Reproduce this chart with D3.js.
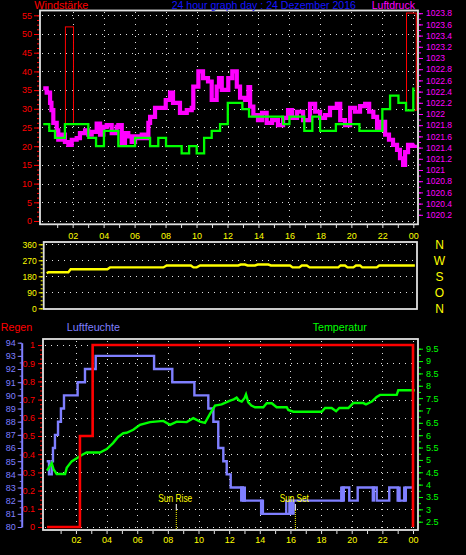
<!DOCTYPE html>
<html><head><meta charset="utf-8">
<script src="https://cdn.jsdelivr.net/npm/d3@7"></script>
<style>html,body{margin:0;padding:0;background:#000;}svg{display:block;}text{font-family:"Liberation Sans",Arial,sans-serif;}</style>
</head><body><svg id="c" width="466" height="555"></svg>
<script>
// ---------- DATA ----------
const hourTicks = d3.range(1, 25);
const windTicks = d3.range(0, 56, 5);
const presTicks = d3.range(0, 19).map(i => 1020.2 + i * 0.2);
const dirTicks = [0, 90, 180, 270, 360];
const dirLetters = ["N", "O", "S", "W", "N"];
const rainTicks = d3.range(0, 11).map(i => i / 10);
const humTicks = d3.range(80, 95);
const tempTicks = d3.range(0, 15).map(i => 2.5 + i * 0.5);

// wind speed (stepped)
const windTimes = [0.10,0.49,0.86,1.50,3.01,3.51,4.02,4.95,6.03,7.00,7.53,8.03,9.04,9.52,10.01,10.49,10.98,11.52,12.02,12.96,13.39,15.59,16.00,16.96,17.48,17.98,19.00,20.52,22.00,22.50,23.04,23.53,24.00];
const windValues = [25.9,24.1,22.2,25.9,22.2,20.0,24.1,20.0,22.2,20.0,22.2,20.0,18.1,20.0,18.1,22.2,24.1,25.9,31.6,29.9,27.9,25.9,27.9,24.1,27.9,24.1,25.9,24.1,29.9,33.5,31.6,29.6,35.7];
// gust bars
const gustStart = [1.50, 23.53];
const gustEnd = [2.02, 24.16];
const gustLow = [25.9, 29.6];
const gustHigh = [51.9, 55.6];
// pressure
const presTimes = [0.10,0.32,0.54,0.63,0.75,0.97,1.07,1.29,1.50,1.72,1.94,2.26,2.47,2.80,3.01,3.23,3.55,3.77,3.98,4.20,4.52,4.84,4.95,5.17,5.38,5.59,5.81,6.03,6.24,6.46,6.72,6.89,7.00,7.32,7.64,8.01,8.29,8.48,8.93,9.37,9.69,9.79,10.12,10.42,10.74,10.98,11.30,11.45,11.63,12.05,12.31,12.60,12.81,13.13,13.35,13.46,13.67,13.97,14.23,14.53,14.88,15.26,15.59,15.91,16.17,16.49,16.88,17.33,17.66,17.98,18.30,18.62,19.06,19.28,19.59,19.92,20.24,20.56,20.89,21.15,21.42,21.66,21.92,22.18,22.43,22.69,22.95,23.14,23.34,23.47,23.66,23.92,24.10];
const presValues = [1022.46,1022.38,1022.20,1022.07,1021.84,1021.71,1021.54,1021.63,1021.50,1021.45,1021.54,1021.57,1021.66,1021.71,1021.63,1021.68,1021.83,1021.63,1021.77,1021.80,1021.66,1021.77,1021.80,1021.48,1021.66,1021.60,1021.50,1021.60,1021.57,1021.63,1021.57,1021.84,1021.95,1022.11,1022.11,1022.25,1022.38,1022.20,1022.02,1022.07,1022.11,1022.49,1022.76,1022.64,1022.58,1022.25,1022.49,1022.64,1022.43,1022.64,1022.76,1022.49,1022.29,1022.25,1022.48,1022.13,1021.98,1021.89,1022.02,1021.84,1021.89,1021.80,1021.93,1022.07,1021.93,1022.04,1021.89,1022.18,1022.04,1021.93,1021.98,1022.11,1022.18,1021.89,1021.80,1022.11,1022.04,1022.14,1022.18,1022.04,1021.95,1021.75,1021.86,1021.63,1021.54,1021.45,1021.36,1021.21,1021.09,1021.32,1021.45,1021.43,1021.45];
// wind direction
const dirTimes = [0.32,0.43,1.72,1.87,4.24,4.41,7.86,8.07,9.63,9.80,10.01,10.23,12.70,12.85,13.13,13.30,13.78,13.95,14.64,14.80,16.04,16.20,16.64,16.80,17.12,17.30,19.16,19.30,19.59,19.75,20.13,20.30,20.56,20.70,21.64,21.80,24.10];
const dirValues = [197,203,203,220,220,230,230,241,241,230,230,241,241,246,246,241,241,246,246,241,241,230,230,241,241,230,230,241,241,230,230,241,241,230,230,241,241];
// rain (cumulative)
const rainTimes = [0.11, 2.26, 3.09, 24.0];
const rainValues = [0, 0.5, 1.0, 0];
// humidity (stepped)
const humTimes = [0.09,0.24,0.42,0.50,0.63,0.83,1.02,1.22,2.11,2.59,3.29,7.10,8.29,9.73,10.64,10.97,11.29,11.62,11.84,12.10,12.90,14.15,15.95,19.40,19.84,20.39,21.63,22.45,23.00,23.53,23.98];
const humValues = [85,84,85,86,87,88,89,90,91,92,93,92,91,90,89,88,86,85,84,83,82,81,82,83,82,83,82,83,82,83,83];
// humidity flicker blocks (rapid alternation)
const flickStart = [12.71,14.01,15.65,15.87,19.24,21.30,23.00,23.35];
const flickEnd = [13.10,14.28,15.80,16.28,19.56,21.52,23.20,23.53];
const flickLow = [82,81,81,81,82,82,82,82];
const flickHigh = [83,82,82,82,83,83,83,83];
// temperature
const tempTimes = [0.11,0.42,0.54,0.74,1.29,1.40,1.72,2.13,2.38,2.70,3.57,4.01,4.42,4.75,5.09,5.31,5.74,6.18,6.83,7.70,8.14,8.58,9.23,9.66,10.10,10.42,10.75,11.08,11.51,12.06,12.30,12.49,12.65,12.82,13.00,13.10,13.25,13.45,13.69,14.23,14.45,14.78,15.10,15.76,15.86,16.19,18.04,18.26,18.69,18.98,19.19,19.78,20.10,20.76,20.93,21.31,21.63,21.85,22.94,23.04,24.13];
const tempValues = [4.57,4.87,4.62,4.43,4.43,4.68,4.94,5.10,5.20,5.30,5.30,5.44,5.68,5.93,6.08,6.10,6.22,6.42,6.53,6.58,6.42,6.55,6.53,6.69,6.55,6.50,6.86,7.20,7.25,7.40,7.45,7.52,7.40,7.36,7.50,7.65,7.33,7.20,7.13,7.13,7.29,7.29,7.13,7.13,7.02,6.95,6.95,7.10,7.10,6.97,7.10,7.10,7.30,7.30,7.25,7.36,7.55,7.63,7.63,7.82,7.82];
// sun
const sunTimes = [8.55, 16.32];
const sunLabels = ["Sun Rise", "Sun Set"];

// ---------- SCALES ----------
const xTop = d3.scaleLinear().domain([0, 24]).range([41.7, 413.3]);
const xBot = d3.scaleLinear().domain([0, 24]).range([45.3, 413]);
const yWind = d3.scaleLinear().domain([0, 55]).range([221, 15.3]);
const yPres = d3.scaleLinear().domain([1020.2, 1023.8]).range([214.8, 13.2]);
const yDir = d3.scaleLinear().domain([0, 360]).range([308.3, 244.3]);
const yRain = d3.scaleLinear().domain([0, 1]).range([527, 345]);
const yHum = d3.scaleLinear().domain([80, 94]).range([527, 342.7]);
const yTemp = d3.scaleLinear().domain([2.5, 9.5]).range([521.7, 348.7]);

const RED = "#ff0000", MAG = "#ff00ff", GRN = "#00ff00", YEL = "#ffff00", HUM = "#7f7fff", WHITE = "#e0e0e0";
const FONT = "Liberation Sans, Arial, sans-serif";
const svg = d3.select("#c");
svg.append("rect").attr("width", 466).attr("height", 555).attr("fill", "#000");

function styleAxis(g, color, size, keepDomain) {
  g.attr("font-family", FONT).attr("font-size", size);
  if (!keepDomain) g.select(".domain").remove();
  else g.select(".domain").attr("stroke", color).attr("stroke-width", 1.5);
  g.selectAll(".tick line").attr("stroke", color);
  g.selectAll(".tick text").attr("fill", color);
}
const fmtNum = v => String(Math.round(v * 100) / 100);
const fmtHour = h => (h % 2 ? "" : String(h % 24).padStart(2, "0"));

function hGrid(vals, y, x0, x1) {
  svg.append("g").selectAll("line").data(vals).join("line")
    .attr("x1", x0).attr("x2", x1).attr("y1", d => Math.round(y(d)) + 0.5).attr("y2", d => Math.round(y(d)) + 0.5)
    .attr("stroke", WHITE).attr("stroke-width", 1).attr("stroke-dasharray", "1,5");
}
function vGrid(vals, x, y0, y1) {
  svg.append("g").selectAll("line").data(vals).join("line")
    .attr("y1", y0).attr("y2", y1).attr("x1", d => Math.round(x(d)) + 0.5).attr("x2", d => Math.round(x(d)) + 0.5)
    .attr("stroke", WHITE).attr("stroke-width", 1).attr("stroke-dasharray", "1,5");
}
const evenHours = d3.range(2, 25, 2);

// ---------- TOP PANEL ----------
hGrid(windTicks, yWind, 42, 417);
vGrid(evenHours, xTop, 12, 223);

// gust bars
svg.append("g").selectAll("rect").data(gustStart).join("rect")
  .attr("x", (d, i) => xTop(d) + 0.5).attr("width", (d, i) => xTop(gustEnd[i]) - xTop(d))
  .attr("y", (d, i) => yWind(gustHigh[i])).attr("height", (d, i) => yWind(gustLow[i]) - yWind(gustHigh[i]))
  .attr("fill", "none").attr("stroke", RED).attr("stroke-width", 1);

const presData = presTimes.map((t, i) => [t, presValues[i]]);
svg.append("path").datum(presData)
  .attr("d", d3.line().x(d => xTop(d[0])).y(d => yPres(d[1])).curve(d3.curveStepAfter))
  .attr("fill", "none").attr("stroke", MAG).attr("stroke-width", 4.2);

const windData = windTimes.map((t, i) => [t, windValues[i]]);
svg.append("path").datum(windData)
  .attr("d", d3.line().x(d => xTop(d[0])).y(d => yWind(d[1])).curve(d3.curveStepAfter))
  .attr("fill", "none").attr("stroke", GRN).attr("stroke-width", 2.3);

svg.append("rect").attr("x", 40).attr("y", 10.5).attr("width", 378).attr("height", 213.8)
  .attr("fill", "none").attr("stroke", WHITE).attr("stroke-width", 1.8);

// axes
const gW = svg.append("g").attr("transform", "translate(39,0)")
  .call(d3.axisLeft(yWind).tickValues(windTicks).tickSize(5).tickPadding(2).tickFormat(fmtNum));
styleAxis(gW, RED, 9);
const gWm = svg.append("g").attr("transform", "translate(39,0)")
  .call(d3.axisLeft(yWind).tickValues(d3.range(0, 56, 1.25)).tickSize(2).tickFormat(""));
styleAxis(gWm, RED, 9);
const gP = svg.append("g").attr("transform", "translate(419,0)")
  .call(d3.axisRight(yPres).tickValues(presTicks).tickSize(4).tickPadding(3).tickFormat(v => String(Math.round(v * 10) / 10)));
styleAxis(gP, MAG, 8.5);
const gPm = svg.append("g").attr("transform", "translate(419,0)")
  .call(d3.axisRight(yPres).tickValues(d3.range(0, 37).map(i => 1020.2 + i * 0.1)).tickSize(2).tickFormat(""));
styleAxis(gPm, MAG, 8.5);
const gXT = svg.append("g").attr("transform", "translate(0,225)")
  .call(d3.axisBottom(xTop).tickValues(hourTicks).tickSize(3).tickPadding(5).tickFormat(fmtHour));
styleAxis(gXT, WHITE, 9);
gXT.selectAll(".tick text").attr("fill", YEL);

// ---------- MIDDLE PANEL ----------
hGrid(dirTicks.slice(1), yDir, 46, 416);
const dirData = dirTimes.map((t, i) => [t, dirValues[i]]);
svg.append("path").datum(dirData)
  .attr("d", d3.line().x(d => xTop(d[0])).y(d => yDir(d[1])))
  .attr("fill", "none").attr("stroke", YEL).attr("stroke-width", 2.4);
svg.append("rect").attr("x", 43.7).attr("y", 242).attr("width", 373.3).attr("height", 67)
  .attr("fill", "none").attr("stroke", WHITE).attr("stroke-width", 1.8);
const gD = svg.append("g").attr("transform", "translate(42.7,0)")
  .call(d3.axisLeft(yDir).tickValues(dirTicks).tickSize(4).tickPadding(2).tickFormat(fmtNum));
styleAxis(gD, YEL, 8.5);
const gDm = svg.append("g").attr("transform", "translate(42.7,0)")
  .call(d3.axisLeft(yDir).tickValues(d3.range(0, 361, 22.5)).tickSize(2).tickFormat(""));
styleAxis(gDm, YEL, 8.5);
svg.append("g").selectAll("text").data(dirTicks).join("text")
  .attr("x", 439.5).attr("y", d => yDir(d)).attr("dy", "0.36em").attr("text-anchor", "middle")
  .attr("fill", YEL).attr("font-size", 12).text((d, i) => dirLetters[i]);

// ---------- BOTTOM PANEL ----------
hGrid(rainTicks, yRain, 45, 417);
vGrid(evenHours, xBot, 341, 529);

const humData = humTimes.map((t, i) => [t, humValues[i]]);
svg.append("path").datum(humData)
  .attr("d", d3.line().x(d => xBot(d[0])).y(d => yHum(d[1])).curve(d3.curveStepAfter))
  .attr("fill", "none").attr("stroke", HUM).attr("stroke-width", 2.4);
svg.append("g").selectAll("rect").data(flickStart).join("rect")
  .attr("x", d => xBot(d)).attr("width", (d, i) => xBot(flickEnd[i]) - xBot(d))
  .attr("y", (d, i) => yHum(flickHigh[i]) - 1).attr("height", (d, i) => yHum(flickLow[i]) - yHum(flickHigh[i]) + 2)
  .attr("fill", HUM);

const tempData = tempTimes.map((t, i) => [t, tempValues[i]]);
svg.append("path").datum(tempData)
  .attr("d", d3.line().x(d => xBot(d[0])).y(d => yTemp(d[1])))
  .attr("fill", "none").attr("stroke", GRN).attr("stroke-width", 2.4);

const rainData = rainTimes.map((t, i) => [t, rainValues[i]]);
svg.append("path").datum(rainData)
  .attr("d", d3.line().x(d => xBot(d[0])).y(d => yRain(d[1])).curve(d3.curveStepAfter))
  .attr("fill", "none").attr("stroke", RED).attr("stroke-width", 2.6);

// sun markers
const sunG = svg.append("g");
sunG.selectAll("line.w").data(sunTimes).join("line").attr("class", "w")
  .attr("x1", d => xBot(d)).attr("x2", d => xBot(d)).attr("y1", 504).attr("y2", 510)
  .attr("stroke", "#fff").attr("stroke-width", 1);
sunG.selectAll("line.y").data(sunTimes).join("line").attr("class", "y")
  .attr("x1", d => xBot(d)).attr("x2", d => xBot(d)).attr("y1", 510).attr("y2", 529)
  .attr("stroke", YEL).attr("stroke-width", 1).attr("stroke-dasharray", "1,1");
sunG.selectAll("text").data(sunTimes).join("text")
  .attr("x", d => xBot(d) - 1).attr("y", 501.5).attr("text-anchor", "middle")
  .attr("fill", YEL).attr("font-size", 10.5).attr("textLength", (d, i) => i ? 29 : 34)
  .attr("lengthAdjust", "spacingAndGlyphs").text((d, i) => sunLabels[i]);

svg.append("rect").attr("x", 43).attr("y", 339).attr("width", 375).attr("height", 191)
  .attr("fill", "none").attr("stroke", WHITE).attr("stroke-width", 1.8);

const gR = svg.append("g").attr("transform", "translate(42,0)")
  .call(d3.axisLeft(yRain).tickValues(rainTicks).tickSize(4).tickPadding(3).tickFormat(fmtNum));
styleAxis(gR, RED, 9);
const gRm = svg.append("g").attr("transform", "translate(42,0)")
  .call(d3.axisLeft(yRain).tickValues(d3.range(0, 41).map(i => i * 0.025)).tickSize(2).tickFormat(""));
styleAxis(gRm, RED, 9);
const gH = svg.append("g").attr("transform", "translate(21.7,0)")
  .call(d3.axisLeft(yHum).tickValues(humTicks).tickSize(4).tickSizeOuter(0).tickPadding(2).tickFormat(fmtNum));
styleAxis(gH, HUM, 9, true);
gH.select(".domain").attr("stroke-width", 2);
const gHm = svg.append("g").attr("transform", "translate(21.7,0)")
  .call(d3.axisLeft(yHum).tickValues(d3.range(80, 94.01, 0.5)).tickSize(2).tickFormat(""));
styleAxis(gHm, HUM, 9);
const gT = svg.append("g").attr("transform", "translate(419,0)")
  .call(d3.axisRight(yTemp).tickValues(tempTicks).tickSize(4).tickPadding(3).tickFormat(fmtNum));
styleAxis(gT, GRN, 9);
const gTm = svg.append("g").attr("transform", "translate(419,0)")
  .call(d3.axisRight(yTemp).tickValues(d3.range(0, 29).map(i => 2.5 + i * 0.25)).tickSize(2).tickFormat(""));
styleAxis(gTm, GRN, 9);
const gXB = svg.append("g").attr("transform", "translate(0,531)")
  .call(d3.axisBottom(xBot).tickValues(hourTicks).tickSize(3).tickPadding(3).tickFormat(fmtHour));
styleAxis(gXB, WHITE, 9);
gXB.selectAll(".tick text").attr("fill", YEL);

// ---------- TITLES (drawn last) ----------
function title(txt, x, y, color, len) {
  svg.append("text").text(txt).attr("x", x).attr("y", y).attr("fill", color)
    .attr("font-size", 11).attr("textLength", len).attr("lengthAdjust", "spacingAndGlyphs");
}
title("Windstärke", 34.3, 8.8, RED, 54);
title("24 hour graph day : 24 Dezember 2016", 171.7, 8.8, "#1414ff", 184.3);
title("Luftdruck", 371.7, 8.8, MAG, 43.3);
title("Regen", 0.7, 330.5, RED, 31.6);
title("Luftfeuchte", 66.7, 330.5, HUM, 53.3);
title("Temperatur", 312.7, 330.5, GRN, 54);
</script></body></html>
